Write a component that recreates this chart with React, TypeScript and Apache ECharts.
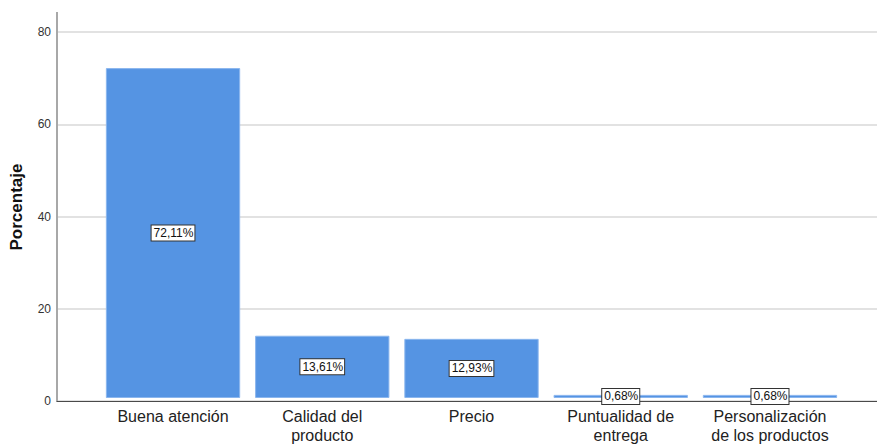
import React, { useEffect, useRef } from "react";
import * as echarts from "echarts";

const categories = [
  "Buena atención",
  "Calidad del\nproducto",
  "Precio",
  "Puntualidad de\nentrega",
  "Personalización\nde los productos",
];
const percentages = [72.11, 13.61, 12.93, 0.68, 0.68];
const yTicks = { min: 0, max: 80, interval: 20 };
const yTitle = "Porcentaje";

const FONT = "'Liberation Sans', Arial, sans-serif";

export default function App() {
  const ref = useRef<HTMLDivElement>(null);

  useEffect(() => {
    if (!ref.current) return;
    const chart = echarts.init(ref.current, undefined, { renderer: "svg" });
    const plotTop = 32;
    const plotBottom = 44;
    chart.setOption({
      animation: false,
      backgroundColor: "#ffffff",
      textStyle: { fontFamily: FONT },
      grid: [
        { left: 57, right: 0, top: plotTop, bottom: plotBottom },
        { left: 98.4, width: 746.2, top: plotTop, bottom: plotBottom },
      ],
      xAxis: [
        {
          type: "value",
          gridIndex: 0,
          min: 0,
          max: 1,
          axisLine: { show: true, lineStyle: { color: "#4a4a4a", width: 1 } },
          axisTick: { show: false },
          axisLabel: { show: false },
          splitLine: { show: false },
        },
        {
          type: "category",
          gridIndex: 1,
          data: categories,
          axisLine: { show: false },
          axisTick: { show: false },
          axisLabel: {
            fontFamily: FONT,
            fontSize: 16,
            color: "#222",
            margin: 9,
            lineHeight: 19,
            interval: 0,
          },
        },
      ],
      yAxis: [
        {
          type: "value",
          gridIndex: 0,
          min: yTicks.min,
          max: yTicks.max,
          interval: yTicks.interval,
          axisLine: { show: true, lineStyle: { color: "#a8a8a8", width: 2 } },
          axisTick: { show: false },
          axisLabel: { fontFamily: FONT, fontSize: 12, color: "#333", margin: 6 },
          splitLine: { show: true, lineStyle: { color: "#d9d9d9", width: 1.5 } },
        },
        {
          type: "value",
          gridIndex: 1,
          min: yTicks.min,
          max: yTicks.max,
          show: false,
        },
      ],
      graphic: [
        {
          type: "line",
          shape: { x1: 57, y1: 12, x2: 57, y2: plotTop },
          style: { stroke: "#a8a8a8", lineWidth: 2 },
          z: 10,
        },
        {
          type: "text",
          x: 16,
          y: 207,
          rotation: Math.PI / 2,
          style: {
            text: yTitle,
            fontFamily: FONT,
            fontSize: 17,
            fontWeight: "bold",
            fill: "#111",
            align: "center",
            verticalAlign: "middle",
          },
        },
      ],
      series: [
        {
          type: "bar",
          xAxisIndex: 1,
          yAxisIndex: 1,
          data: percentages,
          barCategoryGap: "10%",
          itemStyle: { color: "#5594e3", borderColor: "#8bb6ee", borderWidth: 1 },
          label: {
            show: true,
            position: "inside",
            formatter: (p: any) => p.value.toFixed(2).replace(".", ",") + "%",
            fontFamily: FONT,
            fontSize: 12,
            color: "#111",
            backgroundColor: "#ffffff",
            borderColor: "#333",
            borderWidth: 1,
            padding: [2, 1, 1, 2],
          },
        },
      ],
    });
    return () => chart.dispose();
  }, []);

  return (
    <div
      ref={ref}
      style={{ position: "fixed", left: 0, top: 0, width: 877, height: 445 }}
    />
  );
}
